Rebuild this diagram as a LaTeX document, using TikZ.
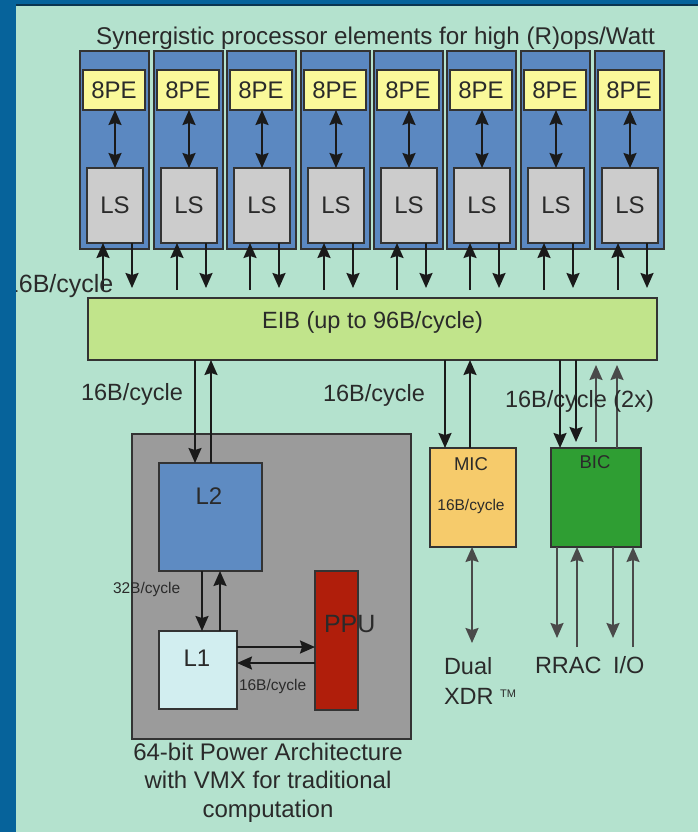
\documentclass[tikz,border=0pt]{standalone}
\usepackage{fontspec}
\setmainfont{Liberation Sans}
\usetikzlibrary{arrows.meta,calc}

\definecolor{bgblue}{HTML}{06639B}
\definecolor{bgline}{HTML}{0A3550}
\definecolor{bggreen}{HTML}{B4E2CE}
\definecolor{speblue}{HTML}{5B88C1}
\definecolor{peyellow}{HTML}{FAF99A}
\definecolor{lsgray}{HTML}{CCCCCC}
\definecolor{eibgreen}{HTML}{C1E48B}
\definecolor{ppegray}{HTML}{9B9B9B}
\definecolor{ltwo}{HTML}{5E8BC2}
\definecolor{lone}{HTML}{D2EEF0}
\definecolor{ppured}{HTML}{B01E0B}
\definecolor{micorange}{HTML}{F6CB6B}
\definecolor{bicgreen}{HTML}{2F9E33}
\definecolor{txt}{HTML}{2A2A2A}
\definecolor{edge}{HTML}{333333}
\definecolor{arrc}{HTML}{1A1A1A}
\definecolor{arrg}{HTML}{4A4A4A}

\newcommand\rbox[7]{\node[box,#6,minimum width={((#4)-(#2))*1pt},minimum height={((#5)-(#3))*1pt}] (#1) at ({((#2)+(#4))/2},{((#3)+(#5))/2}) {#7};}

\begin{document}
\begin{tikzpicture}[x=1pt,y=-1pt,
  box/.style={draw=edge, line width=1.4pt, inner sep=0pt, outer sep=0pt},
  lbl/.style={inner sep=0pt, outer sep=0pt, text=txt, anchor=base},
  big/.style={font=\fontsize{23.5}{28}\selectfont},
  mid/.style={font=\fontsize{18.5}{22}\selectfont},
  small/.style={font=\fontsize{15.5}{18}\selectfont},
  tip/.tip={Stealth[length=15pt,width=13pt,inset=2pt]},
  arr/.style={draw=arrc, line width=2pt, -tip},
  darr/.style={draw=arrc, line width=2pt, tip-tip},
  garr/.style={draw=arrg, line width=2pt, -tip},
  gdarr/.style={draw=arrg, line width=2pt, tip-tip},
]
\useasboundingbox (0,0) rectangle (698,832);
\fill[bggreen] (0,0) rectangle (698,832);

% title
\node[lbl,font=\fontsize{24.2}{28}\selectfont] (title) at (375.5,45) {Synergistic processor elements for high (R)ops/Watt};

% SPE columns
\foreach \i/\xo in {1/80,2/154,3/227,4/301,5/374,6/447,7/521,8/595}{
  \rbox{spe\i}{\xo}{51}{\xo+69}{249}{fill=speblue}{}
  \rbox{pe\i}{\xo+3}{70}{\xo+65}{110}{fill=peyellow,font=\fontsize{24}{28}\selectfont,text=txt}{8PE}
  \rbox{ls\i}{\xo+7}{168}{\xo+63}{243}{fill=lsgray,font=\fontsize{24}{28}\selectfont,text=txt}{LS}
  \draw[darr] ($(ls\i.north)+(0,0)$) -- ($(pe\i.south -| ls\i.north)+(0,0)$);
  \draw[arr] ($(ls\i.south)+(-12,47)$) -- ($(ls\i.south)+(-12,0)$);
  \draw[arr] ($(ls\i.south)+(17,0)$) -- ($(ls\i.south)+(17,45)$);
}

% EIB
\rbox{eib}{88}{298}{657}{360}{fill=eibgreen}{}
\node[lbl,big] (eibtxt) at (372.5,328) {EIB (up to 96B/cycle)};
\node[lbl,font=\fontsize{25}{28}\selectfont,anchor=base west] (lblspe) at (5,292) {16B/cycle};

% PPE
\rbox{ppe}{132}{434}{411}{739}{fill=ppegray}{}
\rbox{l2}{159}{463}{262}{571}{fill=ltwo}{}
\node[lbl,font=\fontsize{24}{28}\selectfont] (l2txt) at (209,504) {L2};
\rbox{l1}{159}{631}{237}{709}{fill=lone}{}
\node[lbl,font=\fontsize{24}{28}\selectfont] (l1txt) at (197,666) {L1};
\rbox{ppu}{315}{571}{358}{710}{fill=ppured}{}
\node[lbl,font=\fontsize{25}{28}\selectfont,anchor=base west] (pputxt) at (324,632) {PPU};

\draw[arr] ($(l2.north |- eib.south)+(-15.5,0)$) -- ($(l2.north)+(-15.5,0)$);
\draw[arr] ($(l2.north)+(0.5,0)$) -- ($(l2.north |- eib.south)+(0.5,0)$);
\node[lbl,big,anchor=base west] (lblppe) at (81,400) {16B/cycle};

\draw[arr] ($(l1.north |- l2.south)+(4,0)$) -- ($(l1.north)+(4,0)$);
\draw[arr] ($(l1.north)+(22,0)$) -- ($(l1.north |- l2.south)+(22,0)$);
\node[lbl,small,anchor=base west] (lbl32) at (113,593) {32B/cycle};

\draw[arr] ($(l1.east)+(0,-23)$) -- ($(l1.east -| ppu.west)+(0,-23)$);
\draw[arr] ($(l1.east -| ppu.west)+(0,-7)$) -- ($(l1.east)+(0,-7)$);
\node[lbl,small,anchor=base west] (lbl16s) at (239,690) {16B/cycle};

\node[lbl,font=\fontsize{24}{28}\selectfont,align=center,anchor=north] (cap) at (268,743)
  {64-bit Power Architecture\\[0.5pt] with VMX for traditional\\[0.5pt] computation};

% MIC
\rbox{mic}{430}{448}{516}{547}{fill=micorange}{}
\node[lbl,mid] (mictxt) at (471,470) {MIC};
\node[lbl,small] (mic16) at (471,510) {16B/cycle};
\draw[arr] ($(mic.north |- eib.south)+(-28,0)$) -- ($(mic.north)+(-28,0)$);
\draw[arr] ($(mic.north)+(-3,0)$) -- ($(mic.north |- eib.south)+(-3,0)$);
\node[lbl,big,anchor=base west] (lblmic) at (323,401) {16B/cycle};
\draw[gdarr] ($(mic.south)+(-1,0)$) -- ($(mic.south)+(-1,96)$);
\node[lbl,big,anchor=base west] (dual) at (444,674) {Dual};
\node[lbl,big,anchor=base west] (xdr) at (444,704) {XDR \raisebox{0.55ex}{\fontsize{11}{12}\selectfont TM}};

% BIC
\rbox{bic}{551}{448}{641}{547}{fill=bicgreen}{}
\node[lbl,mid] (bictxt) at (595,468) {BIC};
\draw[arr] ($(bic.north |- eib.south)+(-36,0)$) -- ($(bic.north)+(-36,0)$);
\draw[arr] ($(bic.north |- eib.south)+(-20,0)$) -- ($(bic.north)+(-20,-6)$);
\draw[garr] ($(bic.north)+(0,-6)$) -- ($(bic.north |- eib.south)+(0,5)$);
\draw[garr] ($(bic.north)+(21,0)$) -- ($(bic.north |- eib.south)+(21,5)$);
\node[lbl,big,anchor=base west] (lblbic) at (505,407) {16B/cycle (2x)};

\draw[garr] ($(bic.south)+(-39,0)$) -- ($(bic.south)+(-39,91)$);
\draw[garr] ($(bic.south)+(-19,100)$) -- ($(bic.south)+(-19,0)$);
\draw[garr] ($(bic.south)+(17,0)$) -- ($(bic.south)+(17,91)$);
\draw[garr] ($(bic.south)+(37,100)$) -- ($(bic.south)+(37,0)$);
\node[lbl,big,anchor=base west] (rrac) at (535,673) {RRAC};
\node[lbl,big,anchor=base west] (io) at (613,673) {I/O};

% frame strips
\fill[bgblue] (0,0) rectangle (16,832);
\fill[bgblue] (0,0) rectangle (698,5);
\fill[bgline] (16,4.5) rectangle (698,6);
\end{tikzpicture}
\end{document}
